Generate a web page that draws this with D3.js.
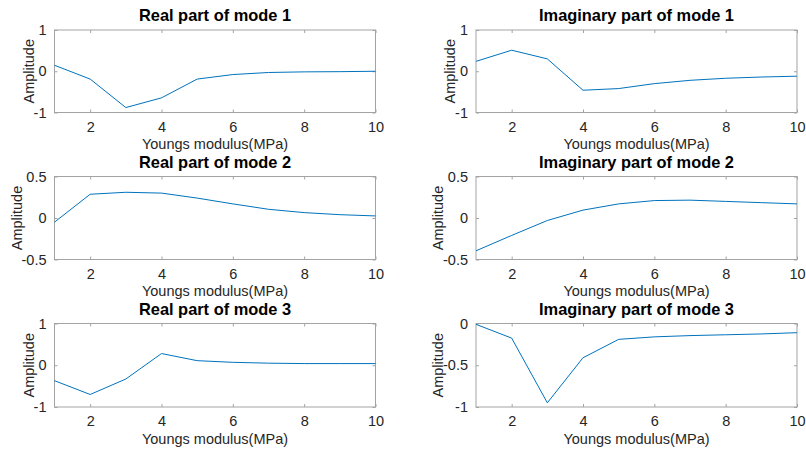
<!DOCTYPE html>
<html>
<head>
<meta charset="utf-8">
<script src="https://cdn.jsdelivr.net/npm/d3@7"></script>
<style>
html,body{margin:0;padding:0;background:#fff;}
svg{display:block;font-family:"Liberation Sans",Arial,Helvetica,sans-serif;}
</style>
</head>
<body>
<svg id="chart" width="806" height="452"></svg>
<script>
// ---- Data ----
const youngsModulus = [1, 2, 3, 4, 5, 6, 7, 8, 9, 10];
const realMode1 = [0.145, -0.19, -0.88, -0.645, -0.19, -0.08, -0.03, -0.015, -0.01, 0.0];
const imagMode1 = [0.24, 0.51, 0.30, -0.46, -0.42, -0.30, -0.22, -0.17, -0.14, -0.12];
const realMode2 = [-0.05, 0.286, 0.31, 0.30, 0.24, 0.17, 0.105, 0.065, 0.04, 0.025];
const imagMode2 = [-0.395, -0.21, -0.03, 0.095, 0.17, 0.21, 0.215, 0.20, 0.185, 0.17];
const realMode3 = [-0.37, -0.70, -0.33, 0.28, 0.11, 0.07, 0.05, 0.04, 0.04, 0.04];
const imagMode3 = [-0.01, -0.175, -0.95, -0.41, -0.19, -0.16, -0.145, -0.135, -0.125, -0.11];

const titles = ["Real part of mode 1", "Imaginary part of mode 1",
                "Real part of mode 2", "Imaginary part of mode 2",
                "Real part of mode 3", "Imaginary part of mode 3"];
const yDomains = [[-1, 1], [-1, 1], [-0.5, 0.5], [-0.5, 0.5], [-1, 1], [-1, 0]];
const yTicks = [[-1, 0, 1], [-1, 0, 1], [-0.5, 0, 0.5], [-0.5, 0, 0.5], [-1, 0, 1], [-1, -0.5, 0]];
const xTicks = [2, 4, 6, 8, 10];
const xLabel = "Youngs modulus(MPa)";
const yLabel = "Amplitude";
const series = [realMode1, imagMode1, realMode2, imagMode2, realMode3, imagMode3];

// ---- Layout ----
const colX = [[54.5, 375.5], [476, 797]];
const rowY = [[30, 112.5], [176.5, 259.5], [323.5, 407]];
const boxColor = "#a3a3a3";
const textColor = "#262626";
const lineColor = "#0072BD";
const fontSize = 14.5;

const svg = d3.select("#chart");

series.forEach((vals, i) => {
  const col = i % 2, row = Math.floor(i / 2);
  const [x0, x1] = colX[col];
  const [y0, y1] = rowY[row];
  const x = d3.scaleLinear().domain([1, 10]).range([x0, x1]);
  const y = d3.scaleLinear().domain(yDomains[i]).range([y1, y0]);
  const g = svg.append("g");

  const fmt = d => d3.format("")(d).replace("−", "-");

  const xb = g.append("g").attr("transform", `translate(0,${y1})`)
    .call(d3.axisBottom(x).tickValues(xTicks).tickSize(-3).tickPadding(9).tickFormat(d3.format("d")));
  const xt = g.append("g").attr("transform", `translate(0,${y0})`)
    .call(d3.axisTop(x).tickValues(xTicks).tickSize(-3).tickFormat(""));
  const yl = g.append("g").attr("transform", `translate(${x0},0)`)
    .call(d3.axisLeft(y).tickValues(yTicks[i]).tickSize(-3).tickPadding(8).tickFormat(fmt));
  const yr = g.append("g").attr("transform", `translate(${x1},0)`)
    .call(d3.axisRight(y).tickValues(yTicks[i]).tickSize(-3).tickFormat(""));

  [xb, xt, yl, yr].forEach(a => {
    a.select(".domain").remove();
    a.selectAll(".tick line").attr("stroke", boxColor).attr("stroke-width", 1);
    a.selectAll(".tick text").attr("fill", textColor).style("font-size", fontSize + "px")
      .style("font-family", '"Liberation Sans", Arial, sans-serif');
  });

  g.append("rect").attr("x", x0).attr("y", y0).attr("width", x1 - x0).attr("height", y1 - y0)
    .attr("fill", "none").attr("stroke", boxColor).attr("stroke-width", 1);

  g.append("path").datum(vals)
    .attr("fill", "none").attr("stroke", lineColor).attr("stroke-width", 1)
    .attr("d", d3.line().x((d, k) => x(youngsModulus[k])).y(d => y(d)));

  g.append("text").attr("x", (x0 + x1) / 2).attr("y", y0 - 9)
    .attr("text-anchor", "middle").attr("fill", "#000")
    .style("font-size", "16.4px").style("font-weight", "bold").text(titles[i]);

  g.append("text").attr("x", (x0 + x1) / 2).attr("y", y1 + 36.5)
    .attr("text-anchor", "middle").attr("fill", textColor)
    .style("font-size", fontSize + "px").text(xLabel);

  let maxW = 0;
  yl.selectAll(".tick text").each(function () { maxW = Math.max(maxW, this.getComputedTextLength()); });
  const lx = x0 - maxW - 8;
  g.append("text").attr("transform", `translate(${lx},${(y0 + y1) / 2}) rotate(-90)`)
    .attr("text-anchor", "middle").attr("fill", textColor)
    .style("font-size", fontSize + "px").text(yLabel);
});
</script>
</body>
</html>
